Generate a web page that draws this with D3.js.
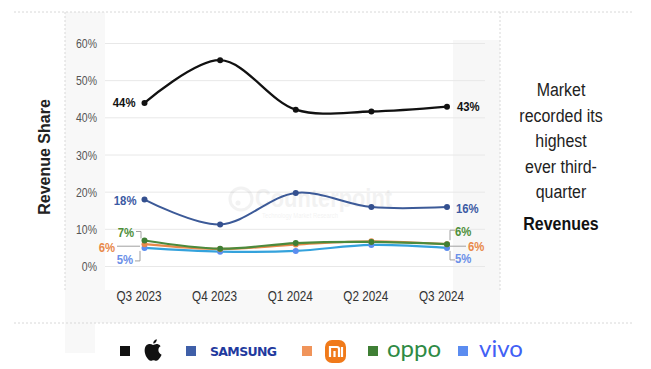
<!DOCTYPE html>
<html>
<head>
<meta charset="utf-8">
<script src="https://cdn.jsdelivr.net/npm/d3@7/dist/d3.min.js"></script>
<style>
  html, body { margin: 0; padding: 0; background: #fff; }
  svg { display: block; }
</style>
</head>
<body>
<svg id="chart" width="651" height="369"></svg>
<script>
// Quarterly revenue share (%) by brand
const quarters = ["Q3 2023", "Q4 2023", "Q1 2024", "Q2 2024", "Q3 2024"];
const apple   = [44, 55.5, 42.2, 41.7, 43];
const samsung = [18, 11.3, 19.8, 16.0, 16];
const xiaomi  = [6, 4.7, 5.9, 6.8, 6];
const oppo    = [7, 4.8, 6.3, 6.6, 6];
const vivo    = [5, 4.0, 4.2, 5.8, 5];
const yTicks  = [0, 10, 20, 30, 40, 50, 60];
const noteLines = ["Market", "recorded its", "highest", "ever third-", "quarter"];
const noteBold = "Revenues";

const svg = d3.select("#chart");
const SANS = '"Liberation Sans", Arial, sans-serif';
const SQUEEZE = 0.84; // horizontal squeeze for a condensed look

// condensed text helper
function ctext(parent, xx, yy, txt, size, anchor) {
  return parent.append("text")
    .attr("transform", `translate(${xx},${yy}) scale(${SQUEEZE},1)`)
    .attr("font-family", SANS).attr("font-size", size)
    .attr("text-anchor", anchor || "start").text(txt);
}

// slide background panels
const bg = svg.append("g");
bg.append("rect").attr("x", 65).attr("y", 12).attr("width", 40).attr("height", 278).attr("fill", "#f8f8f8");
bg.append("rect").attr("x", 453).attr("y", 40).attr("width", 47).attr("height", 250).attr("fill", "#f7f7f7");
bg.append("rect").attr("x", 65).attr("y", 290).attr("width", 435).attr("height", 33).attr("fill", "#f8f8f8");
bg.append("rect").attr("x", 65).attr("y", 323).attr("width", 30).attr("height", 30).attr("fill", "#f8f8f8");

function dashed(x1, y1, x2, y2) {
  bg.append("line").attr("x1", x1).attr("y1", y1).attr("x2", x2).attr("y2", y2)
    .attr("stroke", "#d8d8d8").attr("stroke-width", 1).attr("stroke-dasharray", "2,2");
}
dashed(14, 12, 632, 12);
dashed(14, 323, 634, 323);
dashed(65, 12, 65, 290);
dashed(500, 12, 500, 290);

// scales
const x = d3.scalePoint().domain(quarters).range([144.5, 447]);
const y = d3.scaleLinear().domain([0, 60]).range([266.5, 43.5]);

// gridlines
svg.append("g").selectAll("line").data(yTicks).join("line")
  .attr("x1", 105).attr("x2", 485)
  .attr("y1", d => y(d)).attr("y2", d => y(d))
  .attr("stroke", "#e8e8e8").attr("stroke-width", 1);

// y axis labels
const yAxis = d3.axisLeft(y).tickValues(yTicks).tickFormat(d => d + "%").tickSize(0).tickPadding(0);
const gy = svg.append("g").attr("transform", "translate(97,0)").call(yAxis);
gy.select(".domain").remove();
gy.selectAll("text").attr("font-family", SANS).attr("font-size", 12.5).attr("fill", "#555")
  .attr("transform", `scale(${SQUEEZE},1)`);

// x axis labels
const xAxis = d3.axisBottom(x).tickSize(0).tickPadding(0);
const gx = svg.append("g").attr("transform", "translate(-6,291)").call(xAxis);
gx.select(".domain").remove();
gx.selectAll("text").attr("font-family", SANS).attr("font-size", 14).attr("fill", "#333")
  .attr("transform", `scale(${SQUEEZE},1)`);

// y axis title
svg.append("text")
  .attr("transform", "translate(50,157) rotate(-90)")
  .attr("text-anchor", "middle")
  .attr("font-family", SANS)
  .attr("font-weight", "bold").attr("font-size", 16).attr("fill", "#222")
  .text("Revenue Share");

// watermark
const wm = svg.append("g").attr("opacity", 0.09);
wm.append("circle").attr("cx", 241).attr("cy", 199).attr("r", 11).attr("fill", "none").attr("stroke", "#777").attr("stroke-width", 3);
wm.append("circle").attr("cx", 238).attr("cy", 203).attr("r", 2.5).attr("fill", "#777");
ctext(wm, 255, 207, "Counterpoint", 26).attr("font-weight", "bold").attr("fill", "#777");
ctext(wm, 262, 218, "Technology Market Research", 7).attr("fill", "#777");

// series lines
const series = [
  { name: "vivo", values: vivo, line: "#34a2dc", dot: "#5b8def", w: 2.2 },
  { name: "xiaomi", values: xiaomi, line: "#e8894a", dot: "#e8894a", w: 2.2 },
  { name: "oppo", values: oppo, line: "#4c8a3c", dot: "#3f7f35", w: 2.2 },
  { name: "samsung", values: samsung, line: "#3c5a98", dot: "#34508f", w: 2 },
  { name: "apple", values: apple, line: "#111", dot: "#111", w: 2.3 }
];
const line = d3.line()
  .x((d, i) => x(quarters[i]))
  .y(d => y(d))
  .curve(d3.curveCatmullRom.alpha(0.5));

const gs = svg.append("g");
series.forEach(s => {
  gs.append("path").datum(s.values).attr("d", line)
    .attr("fill", "none").attr("stroke", s.line).attr("stroke-width", s.w);
});
series.forEach(s => {
  gs.append("g").selectAll("circle").data(s.values).join("circle")
    .attr("cx", (d, i) => x(quarters[i])).attr("cy", d => y(d))
    .attr("r", 3).attr("fill", s.dot);
});

// value labels
const lab = svg.append("g").attr("font-weight", "bold");
const first = quarters[0], last = quarters[quarters.length - 1];
function label(txt, xx, yy, anchor, color) {
  ctext(lab, xx, yy + 4.5, txt, 13.5, anchor).attr("fill", color);
}
label(apple[0] + "%", x(first) - 9, y(apple[0]), "end", "#111");
label(apple[4] + "%", x(last) + 10, y(apple[4]), "start", "#111");
label(samsung[0] + "%", x(first) - 8, y(samsung[0]) + 1, "end", "#3b5aa3");
label(samsung[4] + "%", x(last) + 9, y(samsung[4]) + 1, "start", "#3b5aa3");

// left cluster
label(oppo[0] + "%", 134, y(oppo[0]) - 8, "end", "#4e8f3a");
label(xiaomi[0] + "%", 115, y(xiaomi[0]) + 3, "end", "#e8894a");
label(vivo[0] + "%", 133, y(vivo[0]) + 12, "end", "#6a8fe8");
// right cluster
label(oppo[4] + "%", 455, y(oppo[4]) - 13, "start", "#4e8f3a");
label(xiaomi[4] + "%", 468, y(xiaomi[4]) + 2, "start", "#e8894a");
label(vivo[4] + "%", 455, y(vivo[4]) + 11, "start", "#6a8fe8");

// connector brackets
const br = svg.append("g").attr("fill", "none").attr("stroke", "#a0a0a0").attr("stroke-width", 1);
br.append("path").attr("d", `M136,${y(oppo[0]) - 9} H141 V${y(oppo[0]) - 2}`);
br.append("path").attr("d", `M117,${y(xiaomi[0]) + 2} H140`);
br.append("path").attr("d", `M135,${y(vivo[0]) + 13} H140 V${y(vivo[0]) + 3}`);
br.append("path").attr("d", `M455,${y(oppo[4]) - 14} H450 V${y(oppo[4]) - 4}`);
br.append("path").attr("d", `M450,${y(xiaomi[4]) + 2} H466`);
br.append("path").attr("d", `M455,${y(vivo[4]) + 12} H450 V${y(vivo[4]) + 3}`);

// side note
const note = svg.append("g").attr("fill", "#222");
noteLines.forEach((t, i) => {
  ctext(note, 561, 96 + i * 25.5, t, 19, "middle");
});
ctext(note, 561, 230, noteBold, 19, "middle").attr("font-weight", "bold").attr("fill", "#111");

// legend
const lg = svg.append("g");
const ly = 351;
function sw(xx, color) {
  lg.append("rect").attr("x", xx).attr("y", ly - 5).attr("width", 10).attr("height", 10).attr("fill", color);
}
sw(120, "#111");
lg.append("g").attr("transform", `translate(143,${ly - 13})`)
  .append("path").attr("fill", "#111")
  .attr("d", "M10,7 C8,5.5 5,5.5 3.2,7.5 C1,10 1.2,15 3.5,19 C5,21.5 6.5,23 8,22.8 C9,22.7 9.5,22.2 10.5,22.2 C11.5,22.2 12,22.7 13,22.8 C14.5,23 16,21.3 17.3,19.3 C18,18.2 18.4,17.3 18.6,16.7 C16.3,15.8 15.3,13.8 15.4,11.8 C15.5,10 16.5,8.8 17.6,8.2 C16.4,6.4 14.6,6 13.6,6 C12.2,6 11,7 10,7 Z M10.2,5.5 C10.1,3.5 11.7,1.5 13.8,1.2 C14,3.3 12.3,5.4 10.2,5.5 Z");

sw(186, "#3f5fa8");
lg.append("text").attr("x", 210).attr("y", ly + 5).attr("font-family", "DejaVu Sans, sans-serif")
  .attr("font-weight", "bold").attr("font-size", 12.5).attr("fill", "#1f3a9e").attr("textLength", 67).text("SAMSUNG");

sw(302, "#f0945a");
const mi = lg.append("g").attr("transform", `translate(325,${ly - 11})`);
mi.append("rect").attr("width", 21).attr("height", 23).attr("rx", 7).attr("fill", "#f07a1a");
mi.append("path").attr("fill", "none").attr("stroke", "#fff").attr("stroke-width", 2.2)
  .attr("d", "M5,17 V7 H12 Q14,7 14,9 V17 M9.5,11 V17 M17,7 V17");

sw(368, "#3f7f35");
lg.append("text").attr("x", 387).attr("y", ly + 6).attr("font-family", "Lato, sans-serif")
  .attr("font-size", 24).attr("fill", "#2e8a45").text("oppo");

sw(458, "#5b8cf0");
lg.append("text").attr("x", 479).attr("y", ly + 6).attr("font-family", "Lato, sans-serif")
  .attr("font-size", 24).attr("fill", "#4160f5").text("vivo");
</script>
</body>
</html>
